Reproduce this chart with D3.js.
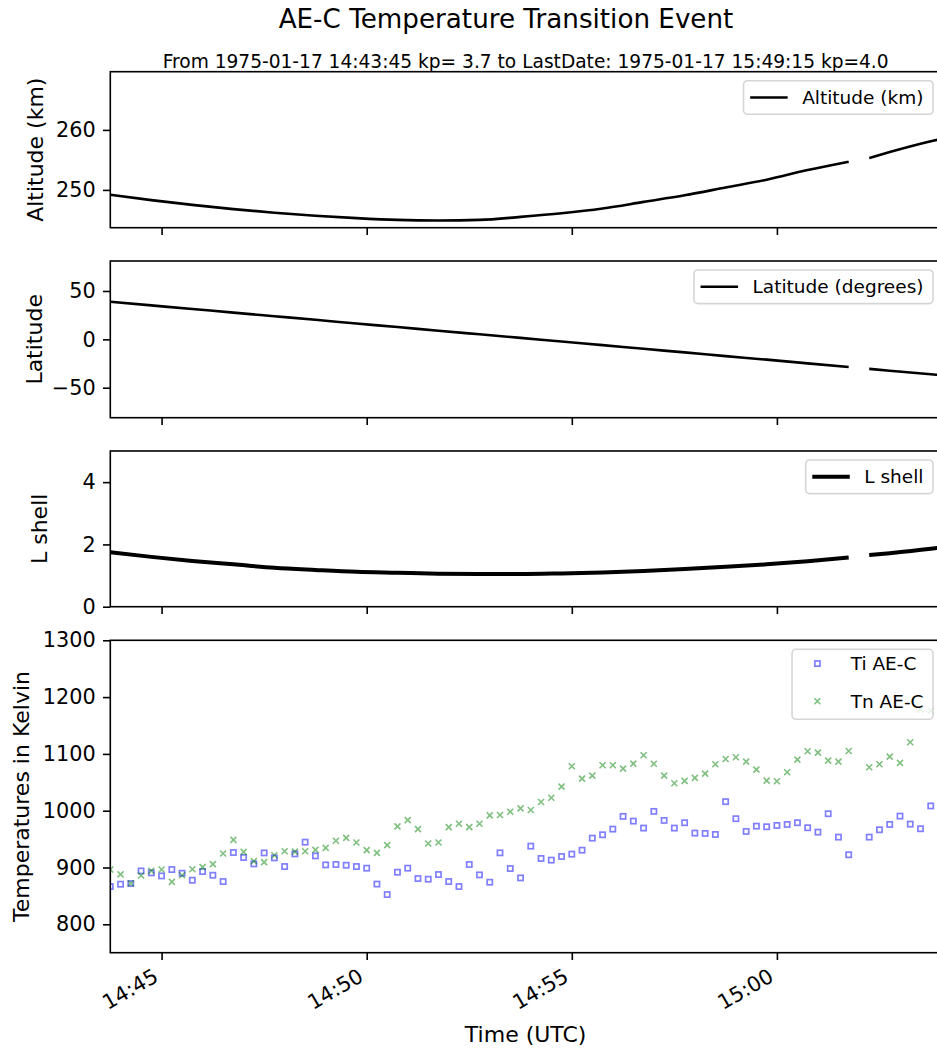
<!DOCTYPE html>
<html lang="en">
<head>
<meta charset="UTF-8">
<title>AE-C Temperature Transition Event</title>
<script src="https://cdn.jsdelivr.net/npm/d3@7"></script>
<style>
  body { margin: 0; background: #fff; }
  svg { display: block; font-family: "DejaVu Sans", sans-serif; }
</style>
</head>
<body>
<svg width="937" height="1048"></svg>
<script>
// temperatures: one record every 15 s from 14:43:45, null = no data
var startTime = "14:43:45";
var stepSeconds = 15;

var tiValues = [866.5, 870.6, 871.8, 894.0, 890.5, 885.2, 896.4, 889.9, 877.6, 892.9,
  886.4, 875.3, 926.4, 917.6, 906.3, 925.7, 916.9, 901.7, 923.9, 944.6,
  920.4, 904.6, 905.3, 904.0, 901.7, 898.8, 870.8, 852.4, 891.7, 898.8,
  880.6, 879.4, 887.6, 875.3, 866.5, 905.3, 887.0, 874.1, 925.8, 898.2,
  881.7, 937.6, 915.9, 913.0, 919.4, 923.5, 930.5, 951.7, 957.6, 967.6,
  990.0, 981.7, 969.4, 998.8, 982.9, 969.4, 978.8, 960.6, 960.0, 958.2,
  1015.9, 985.9, 963.5, 972.8, 971.7, 974.0, 975.8, 978.8, 970.0, 962.3,
  994.7, 953.5, 922.4, null, 953.5, 966.4, 975.8, 990.5, 976.4, 968.2,
  1008.4];

var tnValues = [896.5, 888.0, 872.0, 886.0, 894.0, 896.5, 874.6, 886.4, 897.0, 900.6,
  906.0, 924.7, 948.7, 927.5, 911.2, 909.4, 921.6, 928.6, 928.0, 928.6,
  931.1, 934.6, 947.0, 952.2, 944.0, 930.5, 925.8, 939.4, 972.3, 983.4,
  967.6, 942.3, 944.1, 971.1, 977.0, 971.1, 977.0, 991.8, 992.4, 998.2,
  1004.1, 1001.2, 1015.3, 1022.9, 1042.3, 1078.2, 1056.5, 1061.8, 1080.0, 1080.0,
  1074.1, 1082.9, 1097.6, 1082.6, 1061.8, 1048.3, 1052.4, 1057.7, 1065.3, 1081.7,
  1091.0, 1094.0, 1086.3, 1072.2, 1052.9, 1051.8, 1067.6, 1089.9, 1104.6, 1102.2,
  1088.1, 1086.3, 1105.2, null, 1076.6, 1081.7, 1095.2, 1084.1, 1120.5, 1178.2,
  1175.9];

// orbit values
var orbitTimes = ["14:43:45", "14:44:45", "14:45:45", "14:46:45", "14:47:45", "14:48:45",
  "14:49:45", "14:50:45", "14:51:45", "14:52:45", "14:53:45", "14:54:45", "14:55:45",
  "14:56:45", "14:57:45", "14:58:45", "14:59:45", "15:00:45", "15:01:45", "15:02:00",
  "15:02:15", "15:02:45", "15:03:45", "15:04:00"];
var altitudeValues = [249.2, 248.3, 247.5, 246.8, 246.2, 245.7, 245.3, 245.0, 244.9, 245.0,
  245.5, 246.1, 246.9, 248.0, 249.1, 250.4, 251.7, 253.3, 254.7, null,
  255.3, 256.3, 258.1, 258.5];
var latitudeValues = [38.8, 35.1, 31.4, 27.6, 23.9, 20.2, 16.4, 12.7, 8.9, 5.2,
  1.5, -2.3, -6.0, -9.8, -13.5, -17.3, -21.0, -24.8, -28.6, null,
  -30.5, -32.4, -36.1, -37.0];
var lshellValues = [1.75, 1.60, 1.47, 1.36, 1.25, 1.18, 1.12, 1.09, 1.06, 1.05,
  1.05, 1.07, 1.10, 1.15, 1.21, 1.28, 1.36, 1.46, 1.58, null,
  1.66, 1.72, 1.86, 1.90];

var xTickLabels = ["14:45", "14:50", "14:55", "15:00"];
var altTicks = [250, 260];
var latTicks = [-50, 0, 50];
var lshellTicks = [0, 2, 4];
var tempTicks = [800, 900, 1000, 1100, 1200, 1300];

var svg = d3.select("svg");
var left = 110.3, right = 941;
var tickLen = 7.3;

var parseT = d3.utcParse("%Y-%m-%d %H:%M:%S");
function t(s) { return parseT("1975-01-17 " + s); }

var x = d3.scaleUtc().domain([t("14:43:45"), t("15:04:00")]).range([left, right]);
var xTicks = xTickLabels.map(function(s) { return t(s + ":00"); });

var t0 = t(startTime);
var tempData = tiValues.map(function(v, i) {
  return { time: new Date(+t0 + i * stepSeconds * 1000), ti: v, tn: tnValues[i] };
});
var orbit = orbitTimes.map(function(s, i) {
  return { time: t(s), alt: altitudeValues[i], lat: latitudeValues[i], l: lshellValues[i] };
});

var panels = [
  { top: 71.7, bottom: 227.7, domain: [243.7, 269.7], ticks: altTicks, label: "Altitude (km)", labelX: 43.3 },
  { top: 261, bottom: 417.7, domain: [-81, 81], ticks: latTicks, label: "Latitude", labelX: 41.7 },
  { top: 451, bottom: 606.7, domain: [0, 5], ticks: lshellTicks, label: "L shell", labelX: 46.7 },
  { top: 640.3, bottom: 952.7, domain: [750, 1300], ticks: tempTicks, label: "Temperatures in Kelvin", labelX: 28.5 }
];

panels.forEach(function(p, i) {
  p.y = d3.scaleLinear().domain(p.domain).range([p.bottom, p.top]);
  svg.append("clipPath").attr("id", "clip" + i)
    .append("rect").attr("x", left).attr("y", p.top)
    .attr("width", right - left).attr("height", p.bottom - p.top);
  p.g = svg.append("g");
  p.plot = p.g.append("g").attr("clip-path", "url(#clip" + i + ")");
});

// line panels
function drawLine(p, key, width) {
  var line = d3.line()
    .defined(function(d) { return d[key] != null; })
    .x(function(d) { return x(d.time); })
    .y(function(d) { return p.y(d[key]); })
    .curve(d3.curveMonotoneX);
  p.plot.append("path").datum(orbit)
    .attr("d", line)
    .attr("fill", "none")
    .attr("stroke", "#000")
    .attr("stroke-width", width);
}
drawLine(panels[0], "alt", 2.6);
drawLine(panels[1], "lat", 2.6);
drawLine(panels[2], "l", 4);

// temperature scatter
var tp = panels[3];
var tiColor = "rgba(0,0,255,0.5)", tnColor = "rgba(0,128,0,0.5)";
var crossPath = "M-3,-3L3,3M-3,3L3,-3";

tp.plot.selectAll("rect.ti")
  .data(tempData.filter(function(d) { return d.ti != null; }))
  .enter().append("rect")
  .attr("class", "ti")
  .attr("x", function(d) { return x(d.time) - 2.6; })
  .attr("y", function(d) { return tp.y(d.ti) - 2.6; })
  .attr("width", 5.2).attr("height", 5.2)
  .attr("fill", "none").attr("stroke", tiColor).attr("stroke-width", 1.7);

tp.plot.selectAll("path.tn")
  .data(tempData.filter(function(d) { return d.tn != null; }))
  .enter().append("path")
  .attr("class", "tn")
  .attr("d", crossPath)
  .attr("transform", function(d) { return "translate(" + x(d.time) + "," + tp.y(d.tn) + ")"; })
  .attr("fill", "none").attr("stroke", tnColor).attr("stroke-width", 1.6);

// axes and frames
panels.forEach(function(p, i) {
  var yAxis = p.g.append("g")
    .attr("transform", "translate(" + left + ",0)")
    .call(d3.axisLeft(p.y).tickValues(p.ticks).tickSize(tickLen).tickPadding(tickLen)
      .tickFormat(d3.format("d")));
  var last = i === panels.length - 1;
  var xAxis = p.g.append("g")
    .attr("transform", "translate(0," + p.bottom + ")")
    .call(d3.axisBottom(x).tickValues(xTicks).tickSize(tickLen)
      .tickFormat(last ? d3.utcFormat("%H:%M") : ""));

  [yAxis, xAxis].forEach(function(a) {
    a.attr("font-family", null).attr("font-size", null);
    a.select(".domain").remove();
    a.selectAll(".tick line").attr("stroke", "#000").attr("stroke-width", 1.6);
    a.selectAll(".tick text").attr("fill", "#000").style("font-size", "20.8px");
  });

  if (last) {
    xAxis.selectAll(".tick text")
      .attr("text-anchor", "end")
      .attr("x", null).attr("y", null).attr("dy", null)
      .attr("transform", "translate(-2.4," + (tickLen * 2 + 13) + ") rotate(-30)");
  }

  p.g.append("rect")
    .attr("x", left).attr("y", p.top)
    .attr("width", right - left).attr("height", p.bottom - p.top)
    .attr("fill", "none").attr("stroke", "#000").attr("stroke-width", 1.6);

  p.g.append("text")
    .attr("transform", "translate(" + p.labelX + "," + ((p.top + p.bottom) / 2) + ") rotate(-90)")
    .attr("text-anchor", "middle")
    .style("font-size", "22px")
    .text(p.label);
});

// legends
function legend(p, rows, rowGap) {
  var fs = 18.5, padL = 6.6, handle = 37.5, gap = 14.5, padR = 9.5;
  var boxRight = right - 8, boxTop = p.top + 9;
  var g = p.g.append("g");
  var box = g.append("rect").attr("rx", 4).attr("ry", 4)
    .attr("fill", "rgba(255,255,255,0.8)").attr("stroke", "#d5d5d5").attr("stroke-width", 1.6);
  var maxW = 0;
  var texts = rows.map(function(r, j) {
    var tx = g.append("text").style("font-size", fs + "px").attr("fill", "#000")
      .attr("dy", "0.35em").text(r.label);
    maxW = Math.max(maxW, tx.node().getComputedTextLength());
    return tx;
  });
  var w = padL + handle + gap + maxW + padR;
  var h = rows.length === 1 ? 33.6 : 70;
  var x0 = boxRight - w;
  box.attr("x", x0).attr("y", boxTop).attr("width", w).attr("height", h);
  rows.forEach(function(r, j) {
    var cy = rows.length === 1 ? boxTop + 16.8 : boxTop + 14.3 + j * rowGap;
    texts[j].attr("x", x0 + padL + handle + gap).attr("y", cy);
    var hx = x0 + padL;
    if (r.type === "line") {
      g.append("line").attr("x1", hx).attr("x2", hx + handle).attr("y1", cy).attr("y2", cy)
        .attr("stroke", "#000").attr("stroke-width", r.width);
    } else if (r.type === "square") {
      g.append("rect").attr("x", hx + handle / 2 - 2.6).attr("y", cy - 2.6)
        .attr("width", 5.2).attr("height", 5.2)
        .attr("fill", "none").attr("stroke", tiColor).attr("stroke-width", 1.7);
    } else {
      g.append("path").attr("d", crossPath)
        .attr("transform", "translate(" + (hx + handle / 2) + "," + cy + ")")
        .attr("fill", "none").attr("stroke", tnColor).attr("stroke-width", 1.6);
    }
  });
}
legend(panels[0], [{ type: "line", width: 2.6, label: "Altitude (km)" }]);
legend(panels[1], [{ type: "line", width: 2.6, label: "Latitude (degrees)" }]);
legend(panels[2], [{ type: "line", width: 4, label: "L shell" }]);
legend(panels[3], [{ type: "square", label: "Ti AE-C" }, { type: "cross", label: "Tn AE-C" }], 37.7);

// titles
svg.append("text")
  .attr("x", 506).attr("y", 28)
  .attr("text-anchor", "middle")
  .style("font-size", "26.2px")
  .text("AE-C Temperature Transition Event");

svg.append("text")
  .attr("x", (left + right) / 2).attr("y", 68)
  .attr("text-anchor", "middle")
  .style("font-size", "18.6px")
  .text("From 1975-01-17 14:43:45 kp= 3.7 to LastDate: 1975-01-17 15:49:15 kp=4.0");

svg.append("text")
  .attr("x", (left + right) / 2).attr("y", 1042)
  .attr("text-anchor", "middle")
  .style("font-size", "22px")
  .text("Time (UTC)");
</script>
</body>
</html>
